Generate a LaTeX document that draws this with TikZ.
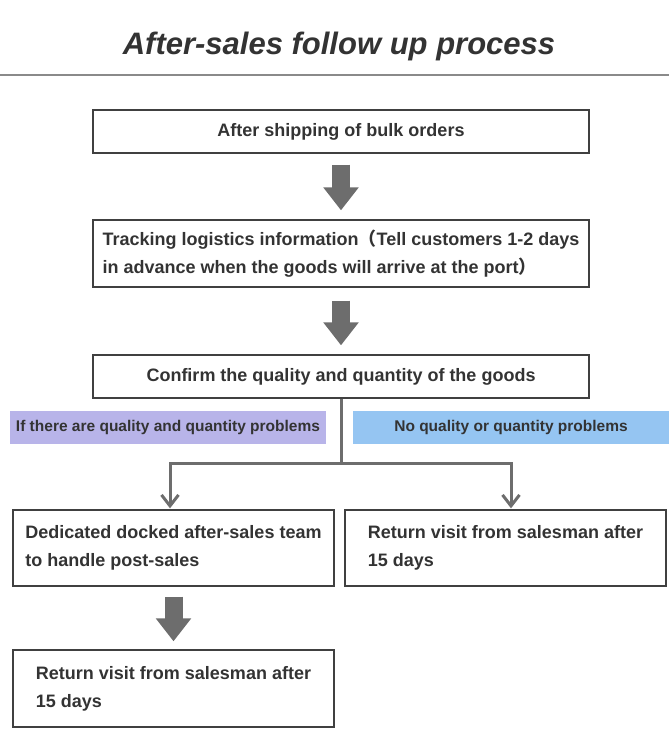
\documentclass[tikz,border=0pt]{standalone}
\usepackage{fontspec}
\setmainfont{Liberation Sans}
\newfontfamily\cjk{Noto Sans CJK SC}
\usetikzlibrary{arrows.meta,calc}
\definecolor{txtgray}{HTML}{333333}
\definecolor{boxgray}{HTML}{404040}
\definecolor{arrowgray}{HTML}{6D6D6D}
\definecolor{rulegray}{HTML}{8A8A8A}
\definecolor{problemfill}{HTML}{B8B4E9}
\definecolor{okfill}{HTML}{95C5F2}
\begin{document}
\begin{tikzpicture}
[x=1pt, y=-1pt,
step box/.style={draw=boxgray, line width=1.3pt, text=txtgray, inner sep=0pt,
  font=\fontsize{18}{28}\selectfont\bfseries, minimum width=496pt},
wide box/.style={step box, align=left, minimum width=321pt},
case label/.style={text=txtgray, inner sep=0pt, minimum width=316pt, minimum height=33pt,
  font=\fontsize{15.5}{18}\selectfont\bfseries},
block arrow/.style={arrowgray, line width=18pt, -{Triangle[length=23pt,width=34pt]}},
link/.style={arrowgray, line width=3pt, line join=miter},
link arrow/.style={link, -{Straight Barb[length=11pt,width=17pt]}}]
\useasboundingbox (0,0) rectangle (669,743);
\node[anchor=base, text=txtgray, font=\fontsize{31}{31}\selectfont\bfseries\itshape] (title) at (339,55) {After-sales follow up process};
\draw[rulegray, line width=1.5pt] (0,75) -- (669,75);
\node[step box, minimum height=43pt] (shipping) at (341,131.5) {After shipping of bulk orders};
\node[step box, minimum height=67pt, align=left] (tracking) at (341,253.5) {Tracking logistics information{\cjk（}Tell customers 1-2 days\\in advance when the goods will arrive at the port{\cjk）}};
\node[step box, minimum height=43pt] (confirm) at (341,376.5) {Confirm the quality and quantity of the goods};
\node[case label, fill=problemfill] (problem) at (168,427.5) {If there are quality and quantity problems};
\node[case label, fill=okfill] (noproblem) at (511,427.5) {No quality or quantity problems};
\node[wide box, minimum height=76pt] (team) at (173.5,548) {Dedicated docked after-sales team\\to handle post-sales};
\node[wide box, minimum height=76pt] (visitok) at (505.5,548) {Return visit from salesman after\\15 days};
\node[wide box, minimum height=77pt] (visit) at (173.5,688.5) {Return visit from salesman after\\15 days};
\draw[block arrow] ($(shipping.south)+(0,11)$) -- ($(tracking.north)+(0,-9)$);
\draw[block arrow] ($(tracking.south)+(0,13)$) -- ($(confirm.north)+(0,-9)$);
\draw[block arrow] ($(team.south)+(0,10)$) -- ($(visit.north)+(0,-8)$);
\coordinate (split) at ($(confirm.south)+(0,65)$);
\draw[link] (confirm.south) -- (split);
\draw[link arrow] (split) -| ($(problem.center |- team.north)+(2,-1)$);
\draw[link arrow] (split) -| ($(noproblem.center |- visitok.north)+(0,-1)$);
\end{tikzpicture}
\end{document}
